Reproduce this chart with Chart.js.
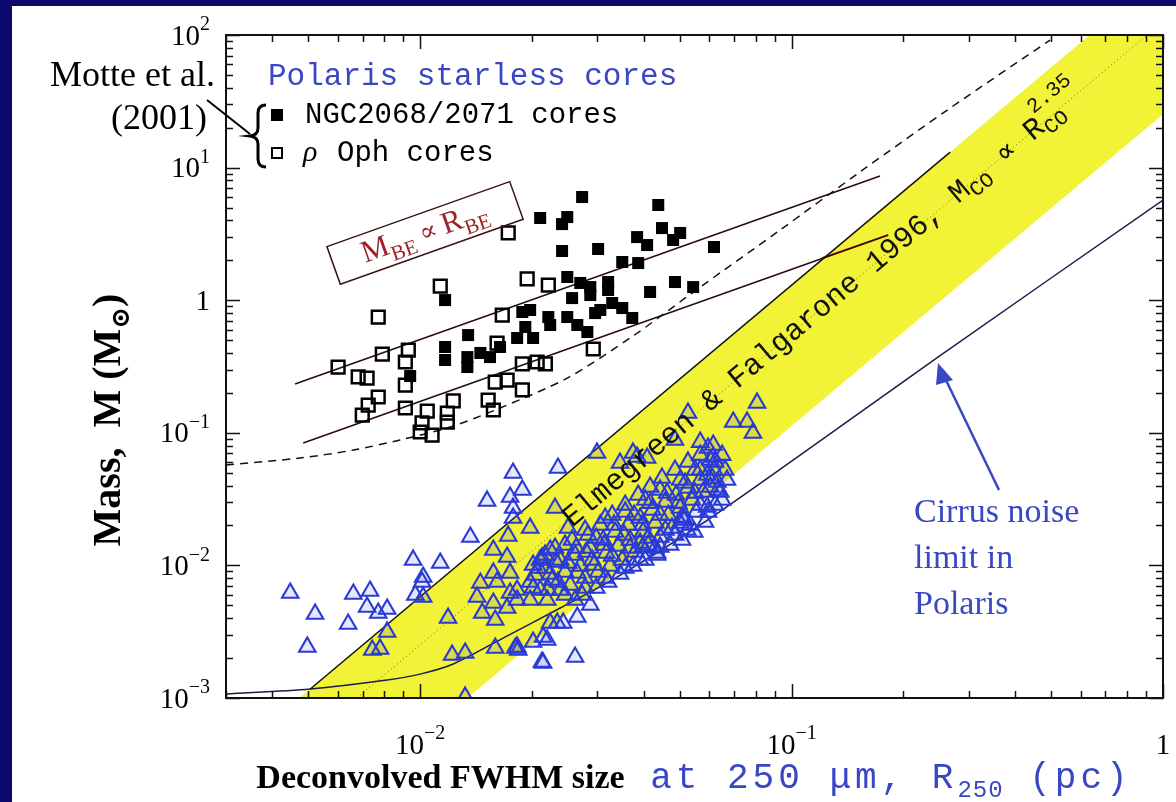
<!DOCTYPE html>
<html>
<head>
<meta charset="utf-8">
<title>Mass versus size of Polaris starless cores</title>
<script src="https://cdn.jsdelivr.net/npm/chart.js@4.4.1/dist/chart.umd.min.js"></script>
<style>
  html, body { margin: 0; padding: 0; background: #0b0a6c; }
  #massSizeChart { display: block; }
</style>
</head>
<body>
<canvas id="massSizeChart" width="1176" height="802"></canvas>
<script>
// Every pair below is [log10 R (pc), log10 M (Msun)]

// Polaris starless cores (open triangles)
const polarisCores = [
  [-2.350,-2.208],[-2.283,-2.367],[-2.304,-2.615],[-2.194,-2.442],[-2.180,-2.216],
  [-2.135,-2.193],[-2.143,-2.314],[-2.113,-2.359],[-2.089,-2.329],[-2.089,-2.502],
  [-2.129,-2.638],[-2.108,-2.630],[-2.019,-1.959],[-1.946,-1.982],[-1.992,-2.088],
  [-1.995,-2.125],[-2.013,-2.223],[-1.992,-2.238],[-1.865,-1.786],[-1.820,-1.514],
  [-1.750,-1.303],[-1.758,-1.484],[-1.750,-1.567],[-1.750,-1.643],[-1.763,-1.778],
  [-1.803,-1.884],[-1.766,-1.937],[-1.803,-2.057],[-1.758,-2.057],[-1.838,-2.133],
  [-1.793,-2.125],[-1.847,-2.238],[-1.803,-2.284],[-1.758,-2.208],[-1.833,-2.359],
  [-1.798,-2.412],[-1.925,-2.397],[-1.914,-2.676],[-1.879,-2.661],[-1.798,-2.623],
  [-1.879,-2.992],[-1.744,-2.623],[-1.629,-1.266],[-1.725,-1.431],[-1.704,-1.718],
  [-1.637,-1.567],[-1.602,-1.718],[-1.672,-1.944],[-1.696,-1.997],[-1.650,-1.884],
  [-1.524,-1.152],[-1.462,-1.228],[-1.427,-1.152],[-1.400,-1.861],[-1.362,-1.907],
  [-1.300,-1.680],[-1.295,-1.635],[-1.281,-1.733],[-1.354,-1.861],[-1.577,-2.389],
  [-1.615,-2.434],[-1.658,-2.563],[-1.696,-2.578],[-1.736,-2.638],[-1.672,-2.729],
  [-1.583,-2.691],[-1.650,-2.434],[-1.704,-2.261],[-1.658,-2.261],[-1.739,-2.186],
  [-1.696,-2.170],[-1.416,-1.183],[-1.389,-1.190],[-1.279,-0.851],[-1.246,-1.070],
  [-1.225,-1.115],[-1.211,-1.183],[-1.211,-1.092],[-1.157,-0.919],[-1.120,-0.919],
  [-1.104,-1.002],[-1.093,-0.775],[-1.174,-1.356],[-1.227,-1.560],[-1.408,-1.831],
  [-1.631,-2.434],[-1.669,-2.540],[-1.739,-2.615],[-1.669,-2.736],[-1.766,-2.321],
  [-1.739,-2.261],[-1.314,-1.054],
  // dense group along the middle of the CO band
  [-1.690,-2.072],[-1.663,-2.020],[-1.645,-2.110],[-1.623,-1.959],[-1.610,-2.050],
  [-1.596,-2.148],[-1.583,-1.922],[-1.569,-2.005],[-1.556,-2.095],[-1.542,-1.869],
  [-1.537,-1.959],[-1.521,-2.050],[-1.507,-1.809],[-1.499,-1.907],[-1.489,-2.005],
  [-1.475,-1.748],[-1.467,-1.854],[-1.456,-1.959],[-1.440,-1.695],[-1.435,-1.809],
  [-1.421,-1.899],[-1.408,-1.643],[-1.400,-1.748],[-1.386,-1.846],[-1.375,-1.582],
  [-1.367,-1.680],[-1.354,-1.786],[-1.340,-1.522],[-1.332,-1.620],[-1.322,-1.718],
  [-1.311,-1.469],[-1.300,-1.567],[-1.289,-1.658],[-1.279,-1.416],[-1.268,-1.507],
  [-1.257,-1.597],[-1.246,-1.356],[-1.238,-1.447],[-1.227,-1.318],[-1.219,-1.409],
  [-1.209,-1.281],[-1.200,-1.371],[-1.623,-2.186],[-1.655,-2.186],[-1.677,-1.959],
  [-1.637,-1.869],[-1.591,-1.809],[-1.548,-1.771],[-1.515,-1.695],[-1.483,-1.620],
  [-1.448,-1.545],[-1.413,-1.469],[-1.381,-1.409],[-1.349,-1.341],[-1.314,-1.281],
  [-1.279,-1.220],[-1.246,-1.168],[-1.564,-2.223],[-1.526,-2.170],[-1.494,-2.125],
  [-1.462,-2.065],[-1.427,-2.005],[-1.394,-1.959],[-1.362,-1.922],[-1.327,-1.846],
  [-1.295,-1.809],[-1.262,-1.748],[-1.233,-1.673],[-1.206,-1.545],[-1.192,-1.447],
  [-1.583,-2.261],[-1.542,-2.299],
  [-1.664,-1.922],[-1.610,-1.846],[-1.556,-1.733],[-1.502,-1.643],[-1.448,-1.597],
  [-1.394,-1.507],[-1.354,-1.431],[-1.300,-1.356],[-1.260,-1.281],[-1.219,-1.205],
  [-1.187,-1.168],[-1.682,-2.020],[-1.634,-1.974],[-1.580,-1.869],[-1.526,-1.793],
  [-1.478,-1.695],[-1.424,-1.620],[-1.381,-1.530],[-1.335,-1.454],[-1.287,-1.379],
  [-1.246,-1.281],[-1.206,-1.220],[-1.704,-2.125],[-1.650,-2.065],[-1.602,-1.982],
  [-1.553,-1.899],[-1.505,-1.846],[-1.451,-1.771],[-1.402,-1.695],[-1.354,-1.620],
  [-1.305,-1.530],[-1.260,-1.454],[-1.214,-1.341],[-1.179,-1.281],[-1.677,-2.186],
  [-1.629,-2.125],[-1.577,-2.057],[-1.532,-1.997],[-1.483,-1.929],[-1.435,-1.869],
  [-1.386,-1.793],[-1.340,-1.733],[-1.292,-1.643],[-1.246,-1.545],[-1.198,-1.431],
  [-1.610,-2.223],[-1.556,-2.170],[-1.502,-2.095],[-1.448,-2.020],[-1.408,-1.959],
  [-1.367,-1.869],[-1.314,-1.771],[-1.273,-1.695],[-1.225,-1.597],[-1.187,-1.507]
];

// Motte et al. (2001): NGC2068/2071 cores (filled squares)
const ngcCores = [
  [-1.564,0.778],[-1.677,0.620],[-1.604,0.627],[-1.618,0.574],[-1.359,0.718],
  [-1.618,0.371],[-1.521,0.386],[-1.416,0.476],[-1.389,0.416],[-1.349,0.544],
  [-1.300,0.507],[-1.319,0.454],[-1.209,0.401],[-1.456,0.288],[-1.413,0.280],
  [-1.604,0.175],[-1.569,0.130],[-1.542,0.099],[-1.494,0.137],[-1.494,0.077],
  [-1.542,0.039],[-1.591,0.016],[-1.381,0.062],[-1.314,0.137],[-1.265,0.099],
  [-1.483,-0.021],[-1.456,-0.059],[-1.429,-0.134],[-1.529,-0.097],[-1.604,-0.127],
  [-1.577,-0.187],[-1.550,-0.240],[-1.655,-0.127],[-1.650,-0.187],[-1.725,-0.089],
  [-1.704,-0.074],[-1.717,-0.202],[-1.739,-0.285],[-1.696,-0.285],[-1.871,-0.263],
  [-1.873,-0.429],[-1.873,-0.504],[-1.838,-0.398],[-1.812,-0.429],[-1.785,-0.353],
  [-1.933,0.001],[-1.933,-0.353],[-1.933,-0.451],[-2.027,-0.572],[-1.515,-0.074]
];

// Motte et al. (2001): rho Oph cores (open squares)
const ophCores = [
  [-1.763,0.507],[-1.946,0.107],[-2.113,-0.127],[-1.712,0.160],[-1.655,0.114],
  [-1.779,-0.112],[-1.793,-0.323],[-2.221,-0.504],[-2.167,-0.579],[-2.143,-0.587],
  [-2.102,-0.406],[-2.032,-0.376],[-2.040,-0.466],[-2.040,-0.640],[-2.113,-0.730],
  [-2.140,-0.791],[-2.156,-0.866],[-2.040,-0.813],[-1.981,-0.836],[-1.911,-0.760],
  [-1.817,-0.753],[-1.803,-0.828],[-1.798,-0.617],[-1.766,-0.602],[-1.725,-0.677],
  [-1.725,-0.481],[-1.685,-0.466],[-1.663,-0.481],[-1.534,-0.368],[-1.995,-0.926],
  [-2.000,-0.994],[-1.968,-1.017],[-1.927,-0.851],[-1.927,-0.919]
];

// Elmegreen & Falgarone (1996) CO clump band, M ~ R^2.35 (outline of the shaded area)
const coBand = [[-2.42,-3.223],[0.20,2.934],[0.20,1.872],[-1.97,-3.228]];
const coBandEdge = [[-2.296,-2.932],[-0.573,1.117]];
const coMidline = [[-2.277,-3.25],[0.10,2.335]];

// Bonnor-Ebert relations
const beUpper = [[-2.337,-0.632],[-0.762,0.936]];
const beLower = [[-2.315,-1.077],[-0.740,0.491]];
const beLowerTail = [[-0.918,0.318],[-0.740,0.491]];
const beCritical = [
  [-2.522,-1.243],[-2.323,-1.190],[-2.180,-1.130],[-2.054,-1.054],[-1.919,-0.956],
  [-1.785,-0.813],[-1.604,-0.587],[-1.427,-0.270],[-1.246,0.099],[-1.031,0.529],
  [-0.816,0.967],[-0.573,1.449],[-0.304,1.962]
];

// cirrus noise detection limit in Polaris
const cirrusLimit = [
  [-2.522,-2.970],[-2.296,-2.932],[-2.089,-2.864],[-2.000,-2.820],[-1.911,-2.744],
  [-1.777,-2.548],[-1.623,-2.321],[-1.470,-2.088],[-1.246,-1.695],[-0.977,-1.168],
  [-0.606,-0.429],[0.000,0.755]
];

// axis ticks
const xMajorTicks = [0.01, 0.1, 1];
const xTickLabels = [['10', '\u22122'], ['10', '\u22121'], ['1', '']];
const yMajorTicks = [0.001, 0.01, 0.1, 1, 10, 100];
const yTickLabels = [['10', '\u22123'], ['10', '\u22122'], ['10', '\u22121'], ['1', ''], ['10', '1'], ['10', '2']];

// annotation anchors, same [log R, log M] units
const bandTextAnchor = [-1.605, -1.672];
const beBoxAnchor = [-1.987, 0.507];

const toPoints = pairs => pairs.map(p => ({ x: Math.pow(10, p[0]), y: Math.pow(10, p[1]) }));

const SERIF = '"Liberation Serif", "DejaVu Serif", serif';
const MONO = '"Liberation Mono", "DejaVu Sans Mono", monospace';
const BLUE = '#3a47c4';

// lay out a row of text pieces; a piece with stack:true starts where the previous one started
function layoutRuns(ctx, runs) {
    let x = 0, prevStart = 0;
    const items = runs.map(r => {
        ctx.font = r.font;
        ctx.letterSpacing = r.spacing || '0px';
        const w = ctx.measureText(r.text).width;
        const start = r.stack ? prevStart : x;
        prevStart = start;
        x = Math.max(x, start + w);
        return Object.assign({}, r, { x: start });
    });
    ctx.letterSpacing = '0px';
    return { items: items, width: x };
}

function drawRuns(ctx, runs, x0, y0, align) {
    const lay = layoutRuns(ctx, runs);
    if (align === 'center') x0 -= lay.width / 2;
    if (align === 'right') x0 -= lay.width;
    lay.items.forEach(r => {
        ctx.font = r.font;
        ctx.letterSpacing = r.spacing || '0px';
        ctx.fillStyle = r.color || '#000';
        ctx.fillText(r.text, x0 + r.x, y0 + (r.dy || 0));
    });
    ctx.letterSpacing = '0px';
}

function powerRuns(parts) {
    const runs = [{ text: parts[0], font: '29px ' + SERIF }];
    if (parts[1]) runs.push({ text: parts[1], font: '20px ' + SERIF, dy: -12 });
    return runs;
}

function drawFrame(chart) {
    const { ctx, chartArea: a, scales: { x, y } } = chart;
    ctx.save();
    ctx.strokeStyle = '#111';
    ctx.lineWidth = 1.5;
    ctx.beginPath();
    for (let d = -3; d <= 0; d++) {
        for (let m = 1; m <= 9; m++) {
            const v = m * Math.pow(10, d);
            if (v < x.min * 0.999 || v > x.max * 1.001) continue;
            const px = Math.round(x.getPixelForValue(v)) + 0.5;
            const len = m === 1 ? 14 : 7;
            ctx.moveTo(px, a.bottom); ctx.lineTo(px, a.bottom - len);
            ctx.moveTo(px, a.top); ctx.lineTo(px, a.top + len);
        }
    }
    for (let d = -3; d <= 2; d++) {
        for (let m = 1; m <= 9; m++) {
            const v = m * Math.pow(10, d);
            if (v < y.min * 0.999 || v > y.max * 1.001) continue;
            const py = Math.round(y.getPixelForValue(v)) + 0.5;
            const len = m === 1 ? 14 : 7;
            ctx.moveTo(a.left, py); ctx.lineTo(a.left + len, py);
            ctx.moveTo(a.right, py); ctx.lineTo(a.right - len, py);
        }
    }
    ctx.stroke();
    ctx.lineWidth = 2;
    ctx.strokeRect(a.left, a.top, a.right - a.left, a.bottom - a.top);

    // tick labels
    ctx.textBaseline = 'middle';
    ctx.textAlign = 'left';
    xMajorTicks.forEach((v, i) => {
        drawRuns(ctx, powerRuns(xTickLabels[i]), x.getPixelForValue(v), a.bottom + 48, 'center');
    });
    yMajorTicks.forEach((v, i) => {
        drawRuns(ctx, powerRuns(yTickLabels[i]), a.left - 16, y.getPixelForValue(v) + 2, 'right');
    });
    ctx.restore();
}

function drawAnnotations(chart) {
    const { ctx, scales: { x, y } } = chart;
    const px = p => x.getPixelForValue(Math.pow(10, p[0]));
    const py = p => y.getPixelForValue(Math.pow(10, p[1]));
    ctx.save();
    ctx.textAlign = 'left';

    // label along the CO band
    const bandAngle = Math.atan2(py(coMidline[1]) - py(coMidline[0]), px(coMidline[1]) - px(coMidline[0]));
    ctx.save();
    ctx.translate(px(bandTextAnchor), py(bandTextAnchor));
    ctx.rotate(bandAngle);
    ctx.textBaseline = 'middle';
    const big = '30px ' + MONO, small = '21px ' + MONO;
    drawRuns(ctx, [
        { text: 'Elmegreen & Falgarone 1996, M', font: big, color: '#111' },
        { text: 'CO', font: small, dy: 9, color: '#111' },
        { text: ' \u221D R', font: big, color: '#111' },
        { text: 'CO', font: small, dy: 9, color: '#111' },
        { text: '2.35', font: small, dy: -18, stack: true, color: '#111' }
    ], 0, 0);
    ctx.restore();

    // boxed M_BE ~ R_BE label, tilted like the BE lines
    const beAngle = Math.atan2(py(beUpper[1]) - py(beUpper[0]), px(beUpper[1]) - px(beUpper[0]));
    ctx.save();
    ctx.translate(px(beBoxAnchor), py(beBoxAnchor));
    ctx.rotate(beAngle);
    ctx.strokeStyle = '#3a1414';
    ctx.lineWidth = 1.5;
    ctx.strokeRect(-97, -20, 194, 40);
    ctx.textBaseline = 'alphabetic';
    const red = '#9c2428';
    drawRuns(ctx, [
        { text: 'M', font: '31px ' + SERIF, color: red },
        { text: 'BE', font: '21px ' + SERIF, color: red, dy: 8 },
        { text: ' \u221D ', font: '26px ' + SERIF, color: red },
        { text: 'R', font: '31px ' + SERIF, color: red },
        { text: 'BE', font: '21px ' + SERIF, color: red, dy: 8 }
    ], 0, 8, 'center');
    ctx.restore();

    ctx.restore();
}

function drawPageText(chart) {
    const ctx = chart.ctx;
    ctx.save();
    ctx.textAlign = 'left';
    ctx.textBaseline = 'alphabetic';

    // legend block
    ctx.fillStyle = BLUE;
    ctx.font = '31px ' + MONO;
    ctx.fillText('Polaris starless cores', 268, 85);
    ctx.fillStyle = '#000';
    ctx.fillRect(271, 109, 12, 12);
    ctx.lineWidth = 2;
    ctx.strokeStyle = '#000';
    ctx.strokeRect(272, 148, 10, 10);
    ctx.font = '29px ' + MONO;
    ctx.fillText('NGC2068/2071 cores', 305, 123);
    ctx.font = 'italic 30px ' + SERIF;
    ctx.fillText('\u03C1', 303, 161);
    ctx.font = '29px ' + MONO;
    ctx.fillText('Oph cores', 337, 161);

    // brace and pointer from the reference
    ctx.lineWidth = 3;
    ctx.beginPath();
    ctx.moveTo(266, 105);
    ctx.quadraticCurveTo(258, 105, 258, 113);
    ctx.lineTo(258, 128);
    ctx.quadraticCurveTo(258, 135, 250, 136);
    ctx.quadraticCurveTo(258, 137, 258, 144);
    ctx.lineTo(258, 159);
    ctx.quadraticCurveTo(258, 167, 266, 167);
    ctx.stroke();
    ctx.lineWidth = 2;
    ctx.beginPath();
    ctx.moveTo(207, 100);
    ctx.lineTo(250, 134);
    ctx.stroke();

    ctx.font = '36px ' + SERIF;
    ctx.textAlign = 'right';
    ctx.fillText('Motte et al.', 215, 86);
    ctx.fillText('(2001)', 207, 129);
    ctx.textAlign = 'left';

    // cirrus noise note with arrow
    ctx.fillStyle = BLUE;
    ctx.strokeStyle = BLUE;
    ctx.font = '34px ' + SERIF;
    ctx.fillText('Cirrus noise', 914, 522);
    ctx.fillText('limit in', 914, 568);
    ctx.fillText('Polaris', 914, 614);
    ctx.lineWidth = 2.5;
    ctx.beginPath();
    ctx.moveTo(999, 490);
    ctx.lineTo(944, 376);
    ctx.stroke();
    ctx.beginPath();
    ctx.moveTo(938, 363);
    ctx.lineTo(953, 380);
    ctx.lineTo(936, 385);
    ctx.closePath();
    ctx.fill();

    // axis titles
    drawRuns(ctx, [
        { text: 'Deconvolved FWHM size', font: 'bold 34px ' + SERIF, color: '#000' },
        { text: ' at 250 \u03BCm, R', font: '36px ' + MONO, color: BLUE, spacing: '4px' },
        { text: '250', font: '24px ' + MONO, color: BLUE, dy: 9, spacing: '1px' },
        { text: ' (pc)', font: '36px ' + MONO, color: BLUE, spacing: '4px' }
    ], 694, 788, 'center');

    ctx.save();
    ctx.translate(120, 420);
    ctx.rotate(-Math.PI / 2);
    drawRuns(ctx, [
        { text: 'Mass,  M (M', font: 'bold 40px ' + SERIF },
        { text: '\u2299', font: 'bold 26px ' + SERIF, dy: 9 },
        { text: ')', font: 'bold 40px ' + SERIF }
    ], 0, 0, 'center');
    ctx.restore();

    ctx.restore();
}

const decorations = {
    id: 'decorations',
    beforeDraw(chart) {
        const ctx = chart.ctx;
        ctx.save();
        ctx.fillStyle = '#0b0a6c';
        ctx.fillRect(0, 0, chart.width, chart.height);
        ctx.fillStyle = '#ffffff';
        ctx.fillRect(12, 6, chart.width - 12, chart.height - 6);
        ctx.restore();
    },
    afterDatasetsDraw(chart) {
        drawAnnotations(chart);
        drawFrame(chart);
        drawPageText(chart);
    }
};

function lineSet(pairs, color, width, extra) {
    return Object.assign({
        data: toPoints(pairs),
        showLine: true,
        borderColor: color,
        borderWidth: width,
        pointRadius: 0,
        fill: false,
        clip: 0,
        order: 5
    }, extra || {});
}

const ctx = document.getElementById('massSizeChart').getContext('2d');
new Chart(ctx, {
    type: 'scatter',
    data: {
        datasets: [
            lineSet(coBand, 'rgba(0,0,0,0)', 0, { fill: 'shape', backgroundColor: '#f2f236', order: 10 }),
            lineSet(coMidline, '#6b6b30', 1, { borderDash: [1, 3], order: 9 }),
            lineSet(coBandEdge, '#111', 1.5),
            lineSet(cirrusLimit, '#1c1c48', 1.5, { tension: 0.3 }),
            lineSet(beCritical, '#111', 1.5, { borderDash: [8, 6], tension: 0.3 }),
            lineSet(beUpper, '#2a0c0c', 1.6),
            lineSet(beLower, '#2a0c0c', 1.6),
            lineSet(beLowerTail, '#e2552a', 2),
            {
                data: toPoints(polarisCores),
                pointStyle: 'triangle',
                pointRadius: 9.5,
                borderColor: '#2a3ad4',
                borderWidth: 2.1,
                backgroundColor: 'rgba(40,60,235,0.12)',
                clip: 0,
                order: 3
            },
            {
                data: toPoints(ophCores),
                pointStyle: 'rect',
                pointRadius: 9,
                borderColor: '#000',
                borderWidth: 2.5,
                backgroundColor: 'rgba(255,255,255,0)',
                clip: 0,
                order: 2
            },
            {
                data: toPoints(ngcCores),
                pointStyle: 'rect',
                pointRadius: 8.5,
                borderColor: '#000',
                borderWidth: 0,
                backgroundColor: '#000',
                clip: 0,
                order: 1
            }
        ]
    },
    options: {
        responsive: false,
        animation: false,
        events: [],
        layout: { padding: { left: 226, top: 35, right: 13, bottom: 104 } },
        scales: {
            x: { type: 'logarithmic', min: 0.003, max: 1, display: false },
            y: { type: 'logarithmic', min: 0.001, max: 100, display: false }
        },
        plugins: {
            legend: { display: false },
            tooltip: { enabled: false }
        }
    },
    plugins: [decorations]
});
</script>
</body>
</html>
